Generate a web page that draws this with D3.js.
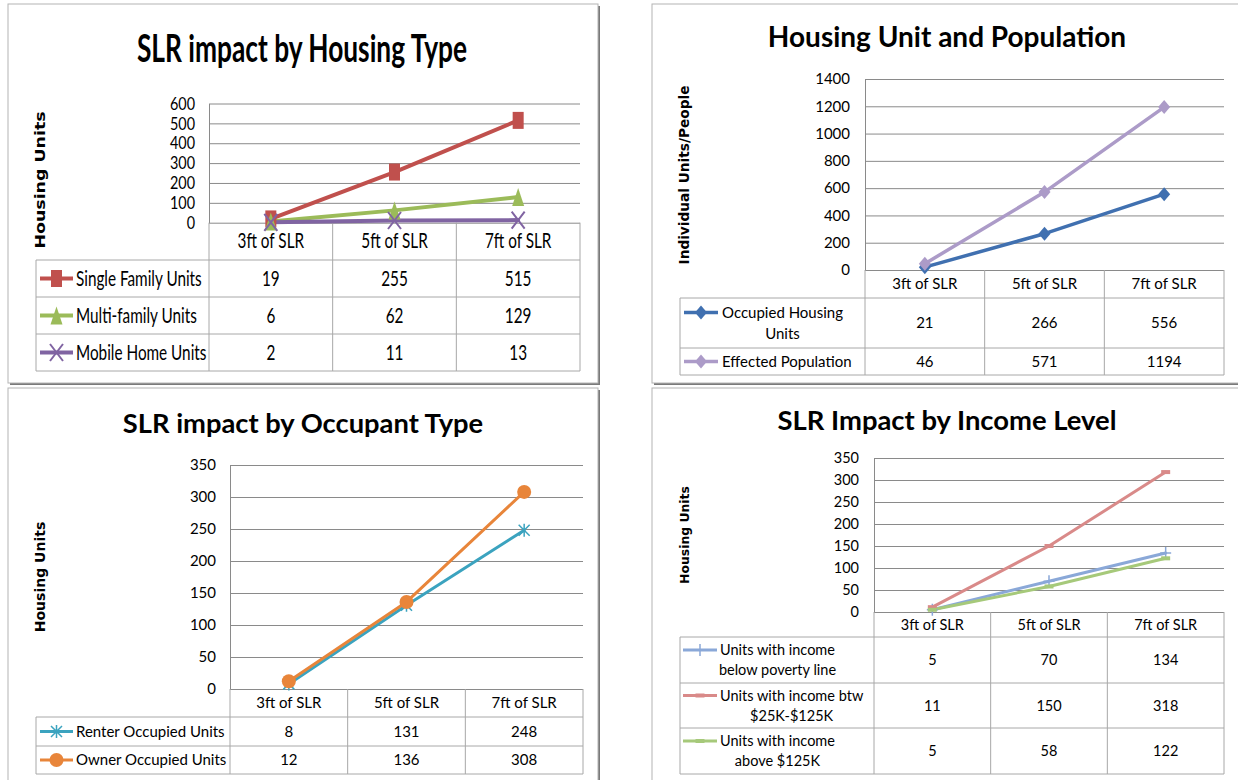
<!DOCTYPE html>
<html><head><meta charset="utf-8">
<script src="https://cdn.jsdelivr.net/npm/d3@7"></script>
<style>body{margin:0;background:#fff;} svg{display:block;}</style>
</head><body>
<svg id="c" width="1238" height="780"></svg>
<script>
// ---------- DATA ----------
const categories = ["3ft of SLR", "5ft of SLR", "7ft of SLR"];

// Top-left: SLR impact by Housing Type
const singleFamilyUnits = [19, 255, 515];
const multiFamilyUnits = [6, 62, 129];
const mobileHomeUnits = [2, 11, 13];
const housingTicks = [0, 100, 200, 300, 400, 500, 600];

// Top-right: Housing Unit and Population
const occupiedHousingUnits = [21, 266, 556];
const effectedPopulation = [46, 571, 1194];
const populationTicks = [0, 200, 400, 600, 800, 1000, 1200, 1400];

// Bottom-left: SLR impact by Occupant Type
const renterOccupiedUnits = [8, 131, 248];
const ownerOccupiedUnits = [12, 136, 308];
const occupantTicks = [0, 50, 100, 150, 200, 250, 300, 350];

// Bottom-right: SLR Impact by Income Level
const belowPovertyUnits = [5, 70, 134];
const midIncomeUnits = [11, 150, 318];
const aboveIncomeUnits = [5, 58, 122];
const incomeTicks = [0, 50, 100, 150, 200, 250, 300, 350];

// ---------- STYLE ----------
const LATO = "Lato,'Open Sans',sans-serif";
const DEJAVU = "'DejaVu Sans',Verdana,sans-serif";
const GRID = "#8a8a8a";
const TABLE = "#a8a8a8";

const svg = d3.select("#c");

function txt(parent, s, x, y, o) {
  let tr = `translate(${x},${y})`;
  if (o.rot) tr += ` rotate(${o.rot})`;
  const sx = o.sx || 1, sy = o.sy || 1;
  if (sx !== 1 || sy !== 1) tr += ` scale(${sx},${sy})`;
  const t = parent.append("text")
    .attr("transform", tr)
    .attr("font-family", o.family)
    .attr("font-size", o.size)
    .attr("font-weight", o.weight || "normal")
    .attr("text-anchor", o.anchor || "start")
    .attr("fill", o.fill || "#000")
    .text(s);
  if (o.mid) t.attr("dy", "0.35em");
  return t;
}

function marker(g, type, cx, cy, color, w, h, sw) {
  if (type === "square") {
    g.append("rect").attr("x", cx - w / 2).attr("y", cy - h / 2).attr("width", w).attr("height", h).attr("fill", color);
  } else if (type === "triangle") {
    g.append("path").attr("d", `M${cx},${cy - h / 2}L${cx + w / 2},${cy + h / 2}L${cx - w / 2},${cy + h / 2}Z`).attr("fill", color);
  } else if (type === "x") {
    g.append("path").attr("d", `M${cx - w / 2},${cy - h / 2}L${cx + w / 2},${cy + h / 2}M${cx + w / 2},${cy - h / 2}L${cx - w / 2},${cy + h / 2}`)
      .attr("stroke", color).attr("stroke-width", sw || 2).attr("fill", "none");
  } else if (type === "diamond") {
    g.append("path").attr("d", `M${cx},${cy - h / 2}L${cx + w / 2},${cy}L${cx},${cy + h / 2}L${cx - w / 2},${cy}Z`).attr("fill", color);
  } else if (type === "asterisk") {
    g.append("path").attr("d", `M${cx - w / 2},${cy - h / 2}L${cx + w / 2},${cy + h / 2}M${cx + w / 2},${cy - h / 2}L${cx - w / 2},${cy + h / 2}M${cx},${cy - h / 2 - 1}L${cx},${cy + h / 2 + 1}`)
      .attr("stroke", color).attr("stroke-width", sw || 1.5).attr("fill", "none");
  } else if (type === "circle") {
    g.append("ellipse").attr("cx", cx).attr("cy", cy).attr("rx", w / 2).attr("ry", h / 2).attr("fill", color);
  } else if (type === "plus") {
    g.append("path").attr("d", `M${cx - w / 2},${cy}L${cx + w / 2},${cy}M${cx},${cy - h / 2}L${cx},${cy + h / 2}`)
      .attr("stroke", color).attr("stroke-width", sw || 1.5).attr("fill", "none");
  } else if (type === "dash") {
    g.append("rect").attr("x", cx - w / 2).attr("y", cy - h / 2).attr("width", w).attr("height", h).attr("fill", color);
  }
}

const panels = [
  {
    frame: [8, 4, 590, 379],
    title: "SLR impact by Housing Type", titlePos: [302, 62],
    titleFont: { family: LATO, size: 30, weight: "bold", sx: 0.877, sy: 1.25 },
    ylabel: "Housing Units", ylabelPos: [45, 180], ylabelFont: { size: 17.4, sy: 0.8 },
    plot: { x0: 209, x1: 580, yTop: 103.5, yBot: 222.7 }, max: 600, ticks: housingTicks, tickPad: 14,
    tickFont: { family: LATO, size: 16, sx: 0.9, sy: 1.12 },
    font: { family: LATO, size: 17, sx: 0.9, sy: 1.2 },
    headerBottom: 260, rowBottoms: [297, 334, 371], legendX0: 36,
    legendLine: [40, 73], legendText: 76, lineH: 20,
    series: [
      { name: ["Single Family Units"], values: singleFamilyUnits, color: "#C0504D", marker: "square", mw: 11, mh: 17, lw: 4 },
      { name: ["Multi-family Units"], values: multiFamilyUnits, color: "#9BBB59", marker: "triangle", mw: 12, mh: 18, lw: 4 },
      { name: ["Mobile Home Units"], values: mobileHomeUnits, color: "#8064A2", marker: "x", mw: 13, mh: 17, lw: 4, sw: 2 }
    ]
  },
  {
    frame: [652, 4, 620, 379],
    title: "Housing Unit and Population", titlePos: [947, 47],
    titleFont: { family: LATO, size: 28, weight: "bold" },
    ylabel: "Individual Units/People", ylabelPos: [689, 175], ylabelFont: { size: 13.7 },
    plot: { x0: 865, x1: 1224, yTop: 79, yBot: 270 }, max: 1400, ticks: populationTicks, tickPad: 15,
    tickFont: { family: LATO, size: 15 },
    font: { family: LATO, size: 15 },
    headerBottom: 298, rowBottoms: [348, 375], legendX0: 680,
    legendLine: [684, 718], legendText: 722, lineH: 21,
    series: [
      { name: ["Occupied Housing", "Units"], values: occupiedHousingUnits, color: "#4070B0", marker: "diamond", mw: 12, mh: 14, lw: 3.5 },
      { name: ["Effected Population"], values: effectedPopulation, color: "#AC9BC8", marker: "diamond", mw: 12, mh: 14, lw: 3.5 }
    ]
  },
  {
    frame: [8, 388, 590, 400],
    title: "SLR impact by Occupant Type", titlePos: [303, 433],
    titleFont: { family: LATO, size: 27.3, weight: "bold" },
    ylabel: "Housing Units", ylabelPos: [45, 577], ylabelFont: { size: 14 },
    plot: { x0: 230, x1: 583, yTop: 465, yBot: 689 }, max: 350, ticks: occupantTicks, tickPad: 14,
    tickFont: { family: LATO, size: 15 },
    font: { family: LATO, size: 15 },
    headerBottom: 717, rowBottoms: [746, 774], legendX0: 36,
    legendLine: [40, 73], legendText: 76, lineH: 20,
    series: [
      { name: ["Renter Occupied Units"], values: renterOccupiedUnits, color: "#3BA3BF", marker: "asterisk", mw: 11, mh: 11, lw: 3, sw: 1.5 },
      { name: ["Owner Occupied Units"], values: ownerOccupiedUnits, color: "#E8853A", marker: "circle", mw: 14, mh: 14, lw: 3 }
    ]
  },
  {
    frame: [652, 388, 620, 400],
    title: "SLR Impact by Income Level", titlePos: [947, 430],
    titleFont: { family: LATO, size: 27.4, weight: "bold" },
    ylabel: "Housing Units", ylabelPos: [689, 535], ylabelFont: { size: 12.4 },
    plot: { x0: 874, x1: 1224, yTop: 458, yBot: 612 }, max: 350, ticks: incomeTicks, tickPad: 15,
    tickFont: { family: LATO, size: 14.5 },
    font: { family: LATO, size: 14.5 },
    headerBottom: 637, rowBottoms: [683, 728, 774], legendX0: 680,
    legendLine: [683, 717], legendText: 720, lineH: 20,
    series: [
      { name: ["Units with income", "below poverty line"], values: belowPovertyUnits, color: "#8AA8D8", marker: "plus", mw: 11, mh: 12, lw: 3, sw: 1.5 },
      { name: ["Units with income btw", "$25K-$125K"], values: midIncomeUnits, color: "#D98A89", marker: "dash", mw: 9, mh: 4, lw: 3 },
      { name: ["Units with income", "above $125K"], values: aboveIncomeUnits, color: "#A6C97A", marker: "dash", mw: 9, mh: 4, lw: 3 }
    ]
  }
];

panels.forEach(p => {
  const g = svg.append("g");
  const [fx, fy, fw, fh] = p.frame;
  // frame with shadow
  g.append("rect").attr("x", fx + 2).attr("y", fy + 2).attr("width", fw).attr("height", fh).attr("fill", "#7a7a7a");
  g.append("rect").attr("x", fx).attr("y", fy).attr("width", fw).attr("height", fh).attr("fill", "#fff").attr("stroke", "#b4b4b4").attr("stroke-width", 1);

  // title
  txt(g, p.title, p.titlePos[0], p.titlePos[1], Object.assign({ anchor: "middle" }, p.titleFont));
  // y label
  txt(g, p.ylabel, p.ylabelPos[0], p.ylabelPos[1], Object.assign({ family: DEJAVU, weight: "bold", anchor: "middle", rot: -90 }, p.ylabelFont));

  const { x0, x1, yTop, yBot } = p.plot;
  const x = d3.scaleBand().domain(categories).range([x0, x1]).padding(0);
  const y = d3.scaleLinear().domain([0, p.max]).range([yBot, yTop]);
  const cx = c => x(c) + x.bandwidth() / 2;

  // grid + y axis
  const tf = p.tickFont;
  const tsx = tf.sx || 1, tsy = tf.sy || 1;
  const ax = g.append("g").attr("transform", `translate(${x0},0)`)
    .call(d3.axisLeft(y).tickValues(p.ticks).tickSize(-(x1 - x0)).tickSizeOuter(0).tickPadding(p.tickPad).tickFormat(d3.format("d")));
  ax.select(".domain").attr("stroke", GRID).attr("stroke-width", 1);
  ax.selectAll(".tick line").attr("stroke", GRID).attr("stroke-width", 1);
  ax.selectAll(".tick text")
    .attr("font-family", tf.family).attr("font-size", tf.size).attr("fill", "#000")
    .attr("x", -p.tickPad / tsx)
    .attr("transform", (tsx !== 1 || tsy !== 1) ? `scale(${tsx},${tsy})` : null);

  // table
  const tb = g.append("g").attr("stroke", TABLE).attr("stroke-width", 1).attr("fill", "none");
  const tableBottom = p.rowBottoms[p.rowBottoms.length - 1];
  const bounds = categories.map(c => x(c)).concat([x1]);
  bounds.forEach(b => tb.append("line").attr("x1", b).attr("x2", b).attr("y1", yBot).attr("y2", tableBottom));
  tb.append("line").attr("x1", p.legendX0).attr("x2", p.legendX0).attr("y1", p.headerBottom).attr("y2", tableBottom);
  [p.headerBottom].concat(p.rowBottoms).forEach(yy =>
    tb.append("line").attr("x1", p.legendX0).attr("x2", x1).attr("y1", yy).attr("y2", yy));

  const f = p.font;
  // header labels
  categories.forEach(c => txt(g, c, cx(c), (yBot + p.headerBottom) / 2, Object.assign({ anchor: "middle", mid: true }, f)));

  // series lines + markers
  const line = d3.line().x((d, i) => cx(categories[i])).y(d => y(d));
  p.series.forEach(s => {
    g.append("path").datum(s.values).attr("d", line).attr("fill", "none")
      .attr("stroke", s.color).attr("stroke-width", s.lw).attr("stroke-linejoin", "round").attr("stroke-linecap", "round");
  });
  p.series.forEach(s => {
    s.values.forEach((v, i) => marker(g, s.marker, cx(categories[i]), y(v), s.color, s.mw, s.mh, s.sw));
  });

  // table rows
  p.series.forEach((s, r) => {
    const top = r === 0 ? p.headerBottom : p.rowBottoms[r - 1];
    const bot = p.rowBottoms[r];
    const mid = (top + bot) / 2;
    const n = s.name.length;
    const firstY = mid - (n - 1) / 2 * p.lineH;
    // legend sample
    g.append("line").attr("x1", p.legendLine[0]).attr("x2", p.legendLine[1]).attr("y1", firstY).attr("y2", firstY)
      .attr("stroke", s.color).attr("stroke-width", s.lw);
    marker(g, s.marker, (p.legendLine[0] + p.legendLine[1]) / 2, firstY, s.color, s.mw, s.mh, s.sw);
    const t0 = txt(g, s.name[0], p.legendText, firstY, Object.assign({ mid: true }, f));
    const w0 = t0.node().getComputedTextLength() * (f.sx || 1);
    for (let k = 1; k < n; k++) {
      txt(g, s.name[k], p.legendText + w0 / 2, firstY + k * p.lineH, Object.assign({ anchor: "middle", mid: true }, f));
    }
    // values
    s.values.forEach((v, i) => txt(g, String(v), cx(categories[i]), mid, Object.assign({ anchor: "middle", mid: true }, f)));
  });
});
</script>
</body></html>
